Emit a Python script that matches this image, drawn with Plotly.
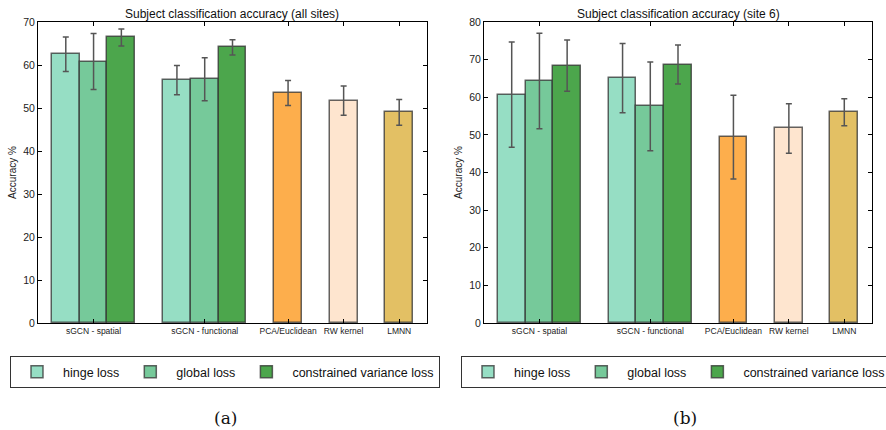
import plotly.graph_objects as go

# ---- data ----
categories = ["sGCN - spatial", "sGCN - functional", "PCA/Euclidean", "RW kernel", "LMNN"]
loss_names = ["hinge loss", "global loss", "constrained variance loss"]

# panel (a): all sites  -- sGCN values per loss: [spatial, functional]
a_hinge = [62.5, 56.5]
a_hinge_err = [4.0, 3.4]
a_global = [60.8, 56.7]
a_global_err = [6.5, 5.0]
a_cv = [66.4, 64.1]
a_cv_err = [2.0, 1.8]
a_base = [53.5, 51.7, 49.0]          # PCA, RW, LMNN
a_base_err = [2.9, 3.4, 3.0]

# panel (b): site 6
b_hinge = [60.7, 65.1]
b_hinge_err = [14.0, 9.2]
b_global = [64.3, 57.6]
b_global_err = [12.7, 11.8]
b_cv = [68.4, 68.7]
b_cv_err = [6.8, 5.2]
b_base = [49.4, 51.7, 56.0]
b_base_err = [11.1, 6.6, 3.6]

titles = ["Subject classification accuracy (all sites)", "Subject classification accuracy (site 6)"]
captions = ["(a)", "(b)"]
y_max = [70, 80]

loss_colors = ["#96dec4", "#76c99a", "#4ca64c"]
base_colors = ["#fdae4c", "#fee5cf", "#e3c064"]
edge = "rgba(50,50,50,0.75)"
err_color = "#555555"

# layout of the x scale (bar width = 1)
group_centers = [2, 6]
offsets = [-1, 0, 1]
base_pos = [9, 11, 13]
tick_pos = group_centers + base_pos

W, H = 886, 430
fig = go.Figure()

panels = [
    dict(loss=[(a_hinge, a_hinge_err), (a_global, a_global_err), (a_cv, a_cv_err)],
         base=a_base, base_err=a_base_err, x0=38, x1=427, xa="x", ya="y", legend="legend"),
    dict(loss=[(b_hinge, b_hinge_err), (b_global, b_global_err), (b_cv, b_cv_err)],
         base=b_base, base_err=b_base_err, x0=484, x1=872, xa="x2", ya="y2", legend="legend2"),
]

for pi, p in enumerate(panels):
    for li, (vals, errs) in enumerate(p["loss"]):
        fig.add_trace(go.Bar(
            x=[c + offsets[li] for c in group_centers], y=vals, width=1,
            name=loss_names[li], marker=dict(color=loss_colors[li], line=dict(color=edge, width=1.5)),
            error_y=dict(type="data", array=errs, color=err_color, thickness=1.5, width=3),
            xaxis=p["xa"], yaxis=p["ya"], legend=p["legend"], showlegend=True,
        ))
    fig.add_trace(go.Bar(
        x=base_pos, y=p["base"], width=1, showlegend=False,
        marker=dict(color=base_colors, line=dict(color=edge, width=1.5)),
        error_y=dict(type="data", array=p["base_err"], color=err_color, thickness=1.5, width=3),
        xaxis=p["xa"], yaxis=p["ya"],
    ))

top, bottom = 22, 323
ydom = [1 - bottom / H, 1 - top / H]
axis_common = dict(showline=True, linecolor="black", linewidth=1, mirror="ticks",
                   ticks="inside", tickcolor="black", ticklen=4, showgrid=False, zeroline=False)

for pi, p in enumerate(panels):
    sfx = "" if pi == 0 else "2"
    fig.update_layout(**{
        "xaxis" + sfx: dict(domain=[p["x0"] / W, p["x1"] / W], range=[0, 14],
                            tickvals=tick_pos, ticktext=categories,
                            tickfont=dict(family="Liberation Sans", size=8.5, color="#222"),
                            anchor="y" + sfx, **axis_common),
        "yaxis" + sfx: dict(domain=ydom, range=[0, y_max[pi]], dtick=10,
                            tickfont=dict(family="Liberation Sans", size=10.5, color="#222"),
                            title=dict(text="Accuracy %", font=dict(family="Liberation Sans", size=10, color="#222"),
                                       standoff=4),
                            anchor="x" + sfx, **axis_common),
    })
    cx = (p["x0"] + p["x1"]) / 2 / W
    fig.add_annotation(text=titles[pi], x=cx, y=1 - 14 / H, xref="paper", yref="paper",
                       xanchor="center", yanchor="middle",
                       showarrow=False, font=dict(family="Liberation Sans", size=12, color="#111"))
    fig.add_annotation(text=captions[pi], x=(226 if pi == 0 else 685) / W, y=1 - 418 / H,
                       xref="paper", yref="paper", showarrow=False, xanchor="center", yanchor="middle",
                       font=dict(family="DejaVu Serif", size=17, color="#111"))

leg_common = dict(orientation="h", yanchor="top", xanchor="left", bgcolor="white",
                  bordercolor="#333", borderwidth=1,
                  font=dict(family="Liberation Sans", size=12.5, color="#111"),
                  itemwidth=42)
fig.update_layout(
    width=W, height=H, margin=dict(l=0, r=0, t=0, b=0, autoexpand=False),
    plot_bgcolor="white", paper_bgcolor="white", barmode="overlay", bargap=0,
    legend=dict(x=10 / W, y=1 - 356 / H, **leg_common),
    legend2=dict(x=461 / W, y=1 - 356 / H, **leg_common),
)

fig.write_html("out.html")
